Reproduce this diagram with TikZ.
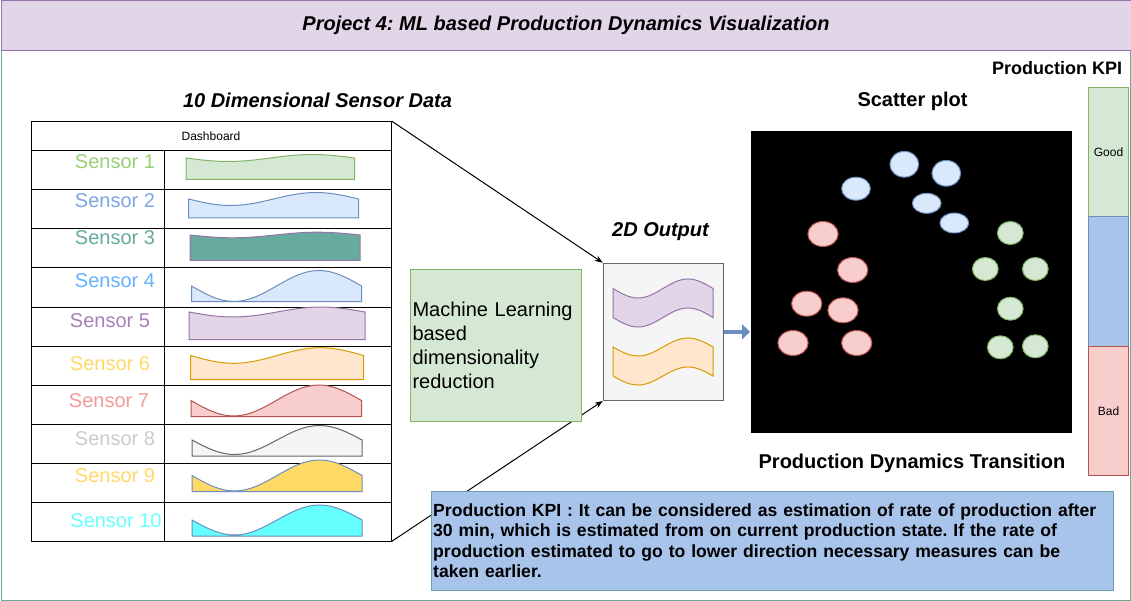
\documentclass[tikz,border=0pt]{standalone}
\usepackage{fontspec}
\setmainfont{Liberation Sans}
\usetikzlibrary{shapes.geometric,arrows.meta}
\frenchspacing
\definecolor{purF}{HTML}{E1D5E7}
\definecolor{purD}{HTML}{9673A6}
\definecolor{teal}{HTML}{67AB9F}
\definecolor{grnF}{HTML}{D5E8D4}
\definecolor{grnD}{HTML}{82B366}
\definecolor{bluF}{HTML}{DAE8FC}
\definecolor{bluD}{HTML}{6C8EBF}
\definecolor{redF}{HTML}{F8CECC}
\definecolor{redD}{HTML}{B85450}
\definecolor{orgF}{HTML}{FFE6CC}
\definecolor{orgD}{HTML}{D79B00}
\definecolor{gryF}{HTML}{F5F5F5}
\definecolor{gryD}{HTML}{666666}
\definecolor{yel}{HTML}{FFD966}
\definecolor{cyn}{HTML}{66FFFF}
\definecolor{kpiB}{HTML}{A9C4EB}
\definecolor{noteD}{HTML}{6A9FB0}
\definecolor{sA}{HTML}{97D077}
\definecolor{sB}{HTML}{7EA6E0}
\definecolor{sC}{HTML}{67AB9F}
\definecolor{sD}{HTML}{66B2FF}
\definecolor{sE}{HTML}{A680B8}
\definecolor{sF}{HTML}{FFD966}
\definecolor{sG}{HTML}{F19C99}
\definecolor{sH}{HTML}{CCCCCC}
\definecolor{sI}{HTML}{FFD966}
\definecolor{sJ}{HTML}{66FFFF}
\newcommand{\swave}[7]{\draw[fill=#6,draw=#7] (#1,#5) -- (#1,#3) sin ({#1+(#2-#1)/4},{#3+#4}) cos ({(#1+#2)/2},#3) sin ({#1+3*(#2-#1)/4},{#3-#4}) cos (#2,#3) -- (#2,#5) -- cycle;}
\newcommand{\tapewave}[7]{\draw[fill=#6,draw=#7] (#1,#3) sin ({#1+(#2-#1)/4},{#3+#4}) cos ({(#1+#2)/2},#3) sin ({#1+3*(#2-#1)/4},{#3-#4}) cos (#2,#3) -- (#2,{#3+#5}) sin ({#1+3*(#2-#1)/4},{#3+#5-#4}) cos ({(#1+#2)/2},{#3+#5}) sin ({#1+(#2-#1)/4},{#3+#5+#4}) cos (#1,{#3+#5}) -- cycle;}
\begin{document}
\begin{tikzpicture}[x=1pt,y=-1pt,line width=1pt,
  cell/.style={draw=black,anchor=north west,inner sep=0pt,minimum height=39pt},
  heading/.style={font=\fontsize{20}{24}\selectfont\bfseries},
  headit/.style={font=\fontsize{20}{24}\selectfont\bfseries\itshape},
  slabel/.style={font=\fontsize{20}{24}\selectfont},
  conn/.style={draw=black,-{Stealth[length=8pt,width=6pt]}},
  bigarrow/.style={draw=bluD,line width=3.5pt,-{Triangle[length=8pt,width=15pt]}},
  dot/.style={ellipse,draw,inner sep=0pt,minimum width=28.7pt},
  bdot/.style={dot,fill=bluF,draw=bluD},
  rdot/.style={dot,fill=redF,draw=redD,minimum width=30.3pt,minimum height=25pt},
  gdot/.style={dot,fill=grnF,draw=grnD,minimum width=25.7pt,minimum height=23pt},
  kpi/.style={draw,anchor=north west,inner sep=0pt,minimum width=40.6pt,minimum height=129.5pt,font=\fontsize{12}{14}\selectfont}]
\useasboundingbox (0,0) rectangle (1131,601);
% frame
\node[draw=teal,fill=white,anchor=north west,inner sep=0pt,minimum width=1128.5pt,minimum height=550pt] (frame) at (1,50) {};
\node[draw=purD,fill=purF,anchor=north west,inner sep=0pt,minimum width=1130pt,minimum height=49.5pt,headit] (title) at (0.5,0.5) {Project 4: ML based Production Dynamics Visualization};
% sensor table
\node[headit] (tabtitle) at (317.5,100) {10 Dimensional Sensor Data};
\node[cell,minimum width=360pt,minimum height=29.5pt,font=\fontsize{12}{14}\selectfont] (dash) at (30.5,121) {Dashboard};
\foreach \i in {0,...,9}{
  \node[cell,minimum width=133pt] (L\i) at (30.5,{150.5+39*\i}) {};
  \node[cell,minimum width=227pt] (R\i) at (163.5,{150.5+39*\i}) {};
}
\node[slabel,text=sA] (s1) at (115,162) {Sensor 1};
\node[slabel,text=sB] (s2) at (115,201) {Sensor 2};
\node[slabel,text=sC] (s3) at (115,238) {Sensor 3};
\node[slabel,text=sD] (s4) at (115,281) {Sensor 4};
\node[slabel,text=sE] (s5) at (110,321) {Sensor 5};
\node[slabel,text=sF] (s6) at (110,364) {Sensor 6};
\node[slabel,text=sG] (s7) at (109,401) {Sensor 7};
\node[slabel,text=sH] (s8) at (115,439) {Sensor 8};
\node[slabel,text=sI] (s9) at (115,476) {Sensor 9};
\node[slabel,text=sJ] (s10) at (116,521) {Sensor 10};
\swave{186}{354.5}{158}{3.5}{179.5}{grnF}{grnD}
\swave{188.5}{358.5}{199}{6.5}{218}{bluF}{bluD}
\swave{190}{360}{235}{2.8}{260.5}{sC}{purD}
\swave{191.5}{361.5}{286}{15.5}{301.5}{bluF}{bluD}
\swave{189}{365}{312}{5}{339.5}{purF}{purD}
\swave{190.5}{363.5}{355.5}{7.8}{379.5}{orgF}{orgD}
\swave{191}{361.5}{400.5}{15.5}{416.5}{redF}{redD}
\swave{192}{362}{440}{14.5}{456}{gryF}{gryD}
\swave{192}{362}{475.5}{15.5}{491.5}{yel}{bluD}
\swave{192}{362}{520}{15}{536}{cyn}{bluD}
% 2D output
\node[headit] (outtitle) at (660.5,231.5) {2D Output};
\node[draw=gryD,fill=gryF,anchor=north west,inner sep=0pt,minimum width=120.6pt,minimum height=137.3pt] (out) at (602.7,262.7) {};
\tapewave{613}{713}{288.5}{9.5}{29}{purF}{purD}
\tapewave{613}{713}{347}{9}{29}{orgF}{orgD}
% connectors
\draw[conn] (dash.north east) -- (out.north west);
\draw[conn] (R9.south east) -- (out.south west);
% ML box
\node[draw=grnD,fill=grnF,anchor=north west,inner sep=2pt,minimum width=171pt,minimum height=152pt,text width=167pt,align=left,font=\fontsize{20}{24}\selectfont] (ml) at (410,269) {Machine Learning\\based\\dimensionality\\reduction};
% scatter plot
\node[heading] (sctitle) at (912.5,101.5) {Scatter plot};
\node[fill=black,anchor=north west,inner sep=0pt,minimum width=321pt,minimum height=301pt] (scatter) at (750,131) {};
\node[heading] (pdt) at (912,463) {Production Dynamics Transition};
\draw[bigarrow] (out.east) -- (out.east -| scatter.west);
\node[bdot,minimum height=25.7pt] (b1) at (904.3,164.3) {};
\node[bdot,minimum height=25.7pt] (b2) at (946.3,173.3) {};
\node[bdot,minimum height=23pt] (b3) at (856,188.7) {};
\node[bdot,minimum height=20pt] (b4) at (926.7,203.3) {};
\node[bdot,minimum height=20pt] (b5) at (954.3,223) {};
\node[rdot] (r1) at (823,234) {};
\node[rdot] (r2) at (852.7,270) {};
\node[rdot] (r3) at (806.7,303.7) {};
\node[rdot] (r4) at (843,310.3) {};
\node[rdot] (r5) at (793,343) {};
\node[rdot] (r6) at (856.7,343) {};
\node[gdot] (g1) at (1010.3,233) {};
\node[gdot] (g2) at (985.3,269) {};
\node[gdot] (g3) at (1035.3,269) {};
\node[gdot] (g4) at (1010.3,308.7) {};
\node[gdot] (g5) at (1000.3,347.3) {};
\node[gdot] (g6) at (1035.3,346.3) {};
% KPI bar
\node[font=\fontsize{18}{21}\selectfont\bfseries] (kpititle) at (1057,68.3) {Production KPI};
\node[kpi,fill=grnF,draw=grnD] (good) at (1087.7,86.7) {Good};
\node[kpi,fill=kpiB,draw=bluD] (mid) at (1087.7,216.2) {};
\node[kpi,fill=redF,draw=redD] (bad) at (1087.7,345.7) {Bad};
% note
\node[draw=noteD,fill=kpiB,anchor=north west,inner sep=2pt,minimum width=682pt,minimum height=99.3pt,text width=678pt,align=left,font=\fontsize{17.6}{20.3}\selectfont\bfseries] (note) at (430.7,490.7) {Production KPI : It can be considered as estimation of rate of production after\\30 min, which is estimated from on current production state. If the rate of\\production estimated to go to lower direction necessary measures can be\\taken earlier.};
\end{tikzpicture}
\end{document}
